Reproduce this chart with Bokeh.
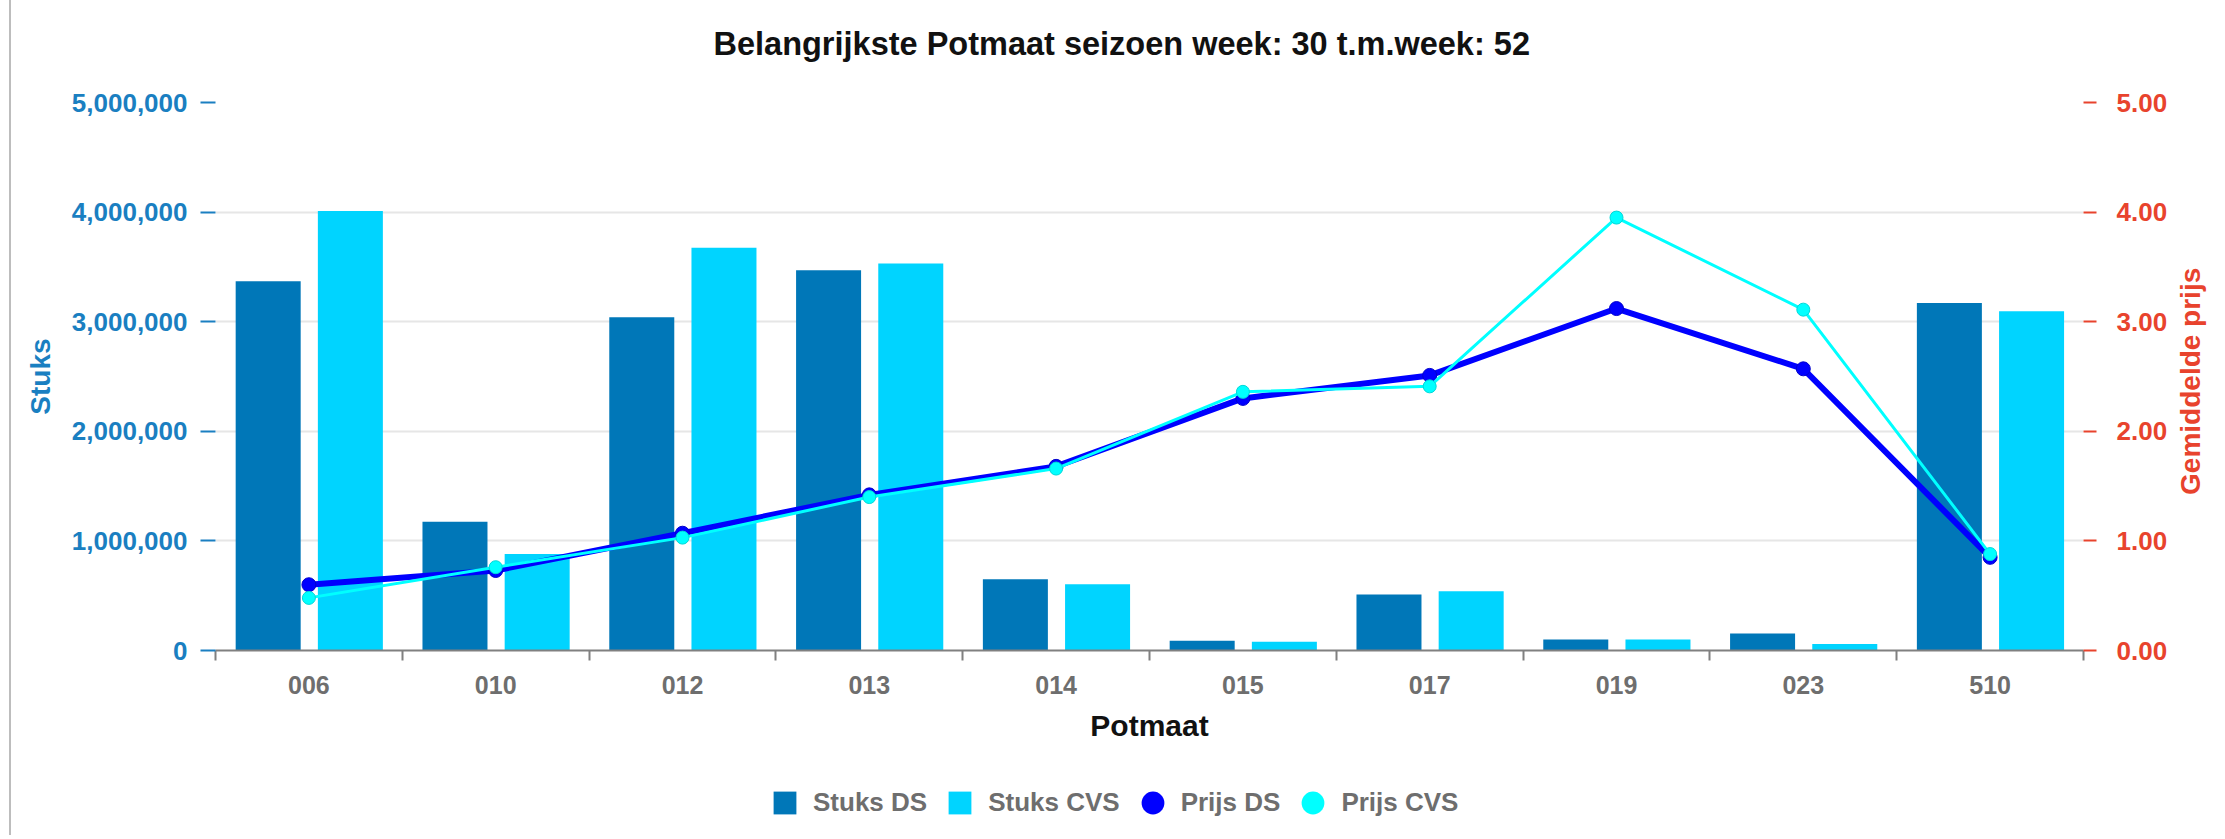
import math
import numpy as np
from bokeh.plotting import figure
from bokeh.layouts import column
from bokeh.models import (Range1d, LinearAxis, FixedTicker, NumeralTickFormatter,
                          Legend, LegendItem, ColumnDataSource, Label)
from bokeh.embed import file_html
from bokeh.resources import INLINE

# ---- data ----
categories = ["006", "010", "012", "013", "014", "015", "017", "019", "023", "510"]
stuks_ds = [3370000, 1175000, 3040000, 3470000, 650000, 90000, 510000, 100000, 155000, 3170000]
stuks_cvs = [4010000, 880000, 3675000, 3530000, 605000, 80000, 540000, 100000, 60000, 3095000]
prijs_ds = [0.60, 0.73, 1.07, 1.42, 1.68, 2.30, 2.51, 3.12, 2.57, 0.85]
prijs_cvs = [0.48, 0.76, 1.03, 1.40, 1.66, 2.36, 2.41, 3.95, 3.11, 0.88]
left_ticks = [0, 1000000, 2000000, 3000000, 4000000, 5000000]
right_ticks = [0, 1, 2, 3, 4, 5]
series_names = ["Stuks DS", "Stuks CVS", "Prijs DS", "Prijs CVS"]
title_text = "Belangrijkste Potmaat seizoen week: 30 t.m.week: 52"

FONT = "Liberation Sans"
C_DS_BAR = "#0077b8"
C_CVS_BAR = "#00d4ff"
C_DS_LINE = "#0000ff"
C_CVS_LINE = "#00ffff"
C_LEFT = "#1a7fc1"
C_RIGHT = "#e8432d"
C_GRAY = "#6e6e6e"
W = 2213

n = len(categories)
centers = np.arange(n) + 0.5
src = ColumnDataSource(dict(
    x=centers,
    x_ds=centers - 0.218,
    x_cvs=centers + 0.222,
    stuks_ds=stuks_ds,
    stuks_cvs=stuks_cvs,
    prijs_ds=prijs_ds,
    prijs_cvs=prijs_cvs,
))


def bare(fig):
    fig.outline_line_color = None
    fig.xaxis.visible = False
    fig.yaxis.visible = False
    fig.xgrid.visible = False
    fig.ygrid.visible = False


# ---------- title strip ----------
p_top = figure(width=W, height=70, x_range=Range1d(0, 1), y_range=Range1d(0, 1),
               output_backend="svg", toolbar_location=None, min_border=0)
bare(p_top)
p_top.add_layout(Label(x=498, y=27, x_units="screen", y_units="screen", text=title_text,
                       text_font=FONT, text_font_size="32.5px", text_font_style="bold",
                       text_color="#111111", text_align="left", text_baseline="middle"))

# ---------- main chart ----------
p = figure(width=W, height=690, x_range=Range1d(0, n), y_range=Range1d(0, left_ticks[-1]),
           output_backend="svg", toolbar_location=None,
           min_border_left=204, min_border_right=W - 2079, min_border_top=32, min_border_bottom=110)
p.outline_line_color = None
p.xgrid.visible = False
p.ygrid.grid_line_color = "#e6e6e6"
p.ygrid.grid_line_width = 2

# x axis
xa = p.xaxis[0]
xa.ticker = FixedTicker(ticks=list(centers), minor_ticks=list(np.arange(n + 1)))
xa.major_label_overrides = {float(c): lab for c, lab in zip(centers, categories)}
xa.major_tick_out = 0
xa.major_tick_in = 0
xa.major_tick_line_color = None
xa.minor_tick_out = 10
xa.minor_tick_in = 0
xa.minor_tick_line_color = "#808080"
xa.minor_tick_line_width = 2
xa.axis_line_color = "#808080"
xa.axis_line_width = 2
xa.major_label_text_font = FONT
xa.major_label_text_font_size = "25px"
xa.major_label_text_font_style = "bold"
xa.major_label_text_color = C_GRAY
xa.major_label_standoff = 15
xa.axis_label = "Potmaat"
xa.axis_label_text_font = FONT
xa.axis_label_text_font_size = "30px"
xa.axis_label_text_font_style = "bold"
xa.axis_label_text_color = "#111111"
xa.axis_label_standoff = 12

# left axis
ya = p.yaxis[0]
ya.ticker = FixedTicker(ticks=left_ticks)
ya.formatter = NumeralTickFormatter(format="0,0")
ya.axis_line_color = None
ya.major_tick_out = 15
ya.major_tick_in = 0
ya.major_tick_line_color = C_LEFT
ya.major_tick_line_width = 2
ya.minor_tick_line_color = None
ya.major_label_text_font = FONT
ya.major_label_text_font_size = "26px"
ya.major_label_text_font_style = "bold"
ya.major_label_text_color = C_LEFT
ya.major_label_standoff = 13
ya.axis_label = "Stuks"
ya.axis_label_text_font = FONT
ya.axis_label_text_font_size = "28px"
ya.axis_label_text_font_style = "bold"
ya.axis_label_text_color = C_LEFT
ya.axis_label_standoff = 13

# right axis
p.extra_y_ranges = {"price": Range1d(0, right_ticks[-1])}
ra = LinearAxis(y_range_name="price", ticker=FixedTicker(ticks=right_ticks),
                formatter=NumeralTickFormatter(format="0.00"))
ra.axis_line_color = None
ra.major_tick_out = 13
ra.major_tick_in = 0
ra.major_tick_line_color = C_RIGHT
ra.major_tick_line_width = 2
ra.minor_tick_line_color = None
ra.major_label_text_font = FONT
ra.major_label_text_font_size = "26px"
ra.major_label_text_font_style = "bold"
ra.major_label_text_color = C_RIGHT
ra.major_label_standoff = 20
ra.axis_label_text_font = FONT
ra.axis_label_text_font_size = "28px"
ra.axis_label_text_font_style = "bold"
ra.axis_label_text_color = C_RIGHT
axis_props = LinearAxis.properties()
if "axis_label_orientation" in axis_props and "axis_label_align" in axis_props:
    # read bottom-to-top, starting from the lower end of the axis
    ra.axis_label_orientation = math.pi / 2
    ra.axis_label_align = "start"
    ra.axis_label = "\u00a0" * 20 + "Gemiddelde prijs"
    ra.axis_label_standoff = 20
else:
    ra.axis_label = "Gemiddelde prijs"
    ra.axis_label_standoff = 10
p.add_layout(ra, "right")

# bars
bar_w = 0.348
p.vbar(x="x_ds", top="stuks_ds", width=bar_w, source=src, fill_color=C_DS_BAR, line_color=None)
p.vbar(x="x_cvs", top="stuks_cvs", width=bar_w, source=src, fill_color=C_CVS_BAR, line_color=None)

# price lines
p.line(x="x", y="prijs_ds", source=src, y_range_name="price", line_color=C_DS_LINE, line_width=6)
p.scatter(x="x", y="prijs_ds", source=src, y_range_name="price", marker="circle", size=14,
          fill_color=C_DS_LINE, line_color="#0000cc", line_width=1)
p.line(x="x", y="prijs_cvs", source=src, y_range_name="price", line_color=C_CVS_LINE, line_width=3)
p.scatter(x="x", y="prijs_cvs", source=src, y_range_name="price", marker="circle", size=13,
          fill_color=C_CVS_LINE, line_color="#00d8d8", line_width=1)

# ---------- legend strip ----------
p_leg = figure(width=W, height=75, x_range=Range1d(0, 1), y_range=Range1d(0, 1),
               output_backend="svg", toolbar_location=None, min_border=0)
bare(p_leg)
# zero-size markers: they only supply the legend symbols
g1 = p_leg.scatter(x="x", y="stuks_ds", source=src, marker="square", size=0,
                   fill_color=C_DS_BAR, line_color=None)
g2 = p_leg.scatter(x="x", y="stuks_cvs", source=src, marker="square", size=0,
                   fill_color=C_CVS_BAR, line_color=None)
g3 = p_leg.scatter(x="x", y="prijs_ds", source=src, marker="circle", size=0,
                   fill_color=C_DS_LINE, line_color=None)
g4 = p_leg.scatter(x="x", y="prijs_cvs", source=src, marker="circle", size=0,
                   fill_color=C_CVS_LINE, line_color=None)
leg = Legend(items=[LegendItem(label=nm, renderers=[g]) for nm, g in zip(series_names, [g1, g2, g3, g4])],
             location=(541, 4))
leg.orientation = "horizontal"
leg.border_line_color = None
leg.background_fill_alpha = 0
leg.padding = 0
leg.margin = 0
leg.label_text_font = FONT
leg.label_text_font_size = "26px"
leg.label_text_font_style = "bold"
leg.label_text_color = C_GRAY
leg.glyph_width = 57
leg.glyph_height = 57
leg.label_standoff = 0
leg.spacing = 4
p_leg.add_layout(leg, "center")

layout = column(p_top, p, p_leg, spacing=0,
                styles={"border-left": "2px solid #bdbdbd", "margin-left": "9px"})

open("out.html", "w").write(file_html(layout, INLINE))
